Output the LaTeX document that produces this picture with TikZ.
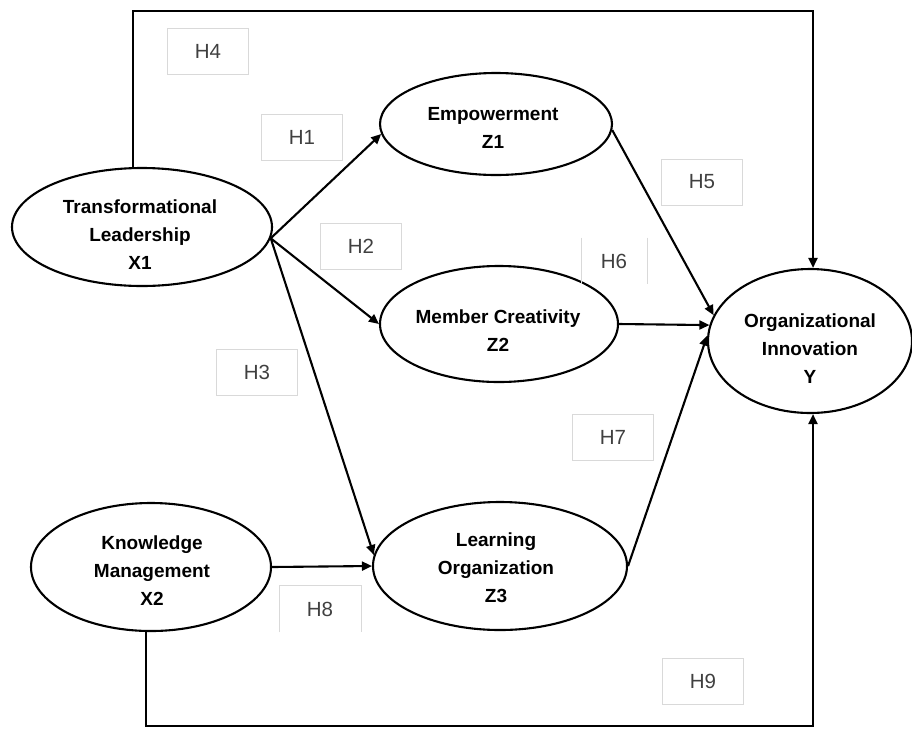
\documentclass[tikz,border=0pt]{standalone}
\usepackage{fontspec}
\setmainfont{Liberation Sans}
\usetikzlibrary{shapes.geometric,arrows.meta}
\begin{document}
\begin{tikzpicture}[x=1pt,y=-1pt,
  lv/.style={ellipse,draw=black,line width=2.1pt,inner sep=0pt},
  txt/.style={align=center,inner sep=0pt,font=\bfseries\fontsize{19}{28}\selectfont},
  hbox/.style={draw=black!15,line width=0.8pt,minimum width=81pt,minimum height=46pt,inner sep=0pt,text=black!75,font=\fontsize{20.5}{24}\selectfont},
  hnob/.style={hbox,draw=none},
  hline/.style={draw=black!15,line width=0.8pt},
  edge/.style={line width=2.1pt},
  arr/.style={edge,-{Triangle[length=10pt,width=9pt]}}]
\useasboundingbox (0,0) rectangle (912,729);
% latent variables
\node[lv,minimum width=260pt,minimum height=118pt] (X1) at (142,227) {};
\node[lv,minimum width=232pt,minimum height=102pt] (Z1) at (496,124) {};
\node[lv,minimum width=238pt,minimum height=116pt] (Z2) at (499,324) {};
\node[lv,minimum width=254pt,minimum height=128pt] (Z3) at (500,566) {};
\node[lv,minimum width=240pt,minimum height=128pt] (X2) at (151,567) {};
\node[lv,minimum width=204pt,minimum height=144pt] (Y) at (810,341) {};
% texts
\node[txt] (X1t) at (140,235) {Transformational\\Leadership\\X1};
\node[txt] (Z1t) at (493,128) {Empowerment\\Z1};
\node[txt] (Z2t) at (498,331) {Member Creativity\\Z2};
\node[txt] (Z3t) at (496,568) {Learning\\Organization\\Z3};
\node[txt] (X2t) at (152,571) {Knowledge\\Management\\X2};
\node[txt] (Yt) at (810,349) {Organizational\\Innovation\\Y};
% connectors
\draw[arr] (X1.-5) -- (Z1.185);
\draw[arr] (X1.-5) -- (Z2.west);
\draw[arr] (X1.-5) -- (Z3.175);
\draw[arr] (X2.east) -- (Z3.west);
\draw[arr] (Z1.-3) -- (Y.165);
\draw[arr] (Z2.east) -- (Y.171);
\draw[arr] (Z3.east) -- (Y.177);
\coordinate (tl) at (133,11);
\coordinate (tr) at (813,11);
\draw[arr] ([xshift=-9pt]X1.north) -- (tl) -- (tr) -- ([xshift=3pt]Y.north);
\coordinate (bl) at (146,726);
\coordinate (br) at (813,726);
\draw[arr] ([xshift=-5pt]X2.south) -- (bl) -- (br) -- ([xshift=3pt]Y.south);
% hypothesis labels
\node[hbox] (H4) at (208,51) {H4};
\node[hbox] (H1) at (302,137) {H1};
\node[hbox] (H2) at (361,246) {H2};
\node[hbox] (H3) at (257,372) {H3};
\node[hbox] (H5) at (702,182) {H5};
\node[hnob,minimum width=65pt] (H6) at (614,261) {H6};
\draw[hline] (H6.north west) -- (H6.south west) (H6.north east) -- (H6.south east);
\node[hbox] (H7) at (613,437) {H7};
\node[hnob] (H8) at (320,609) {H8};
\draw[hline] (H8.south west) -- (H8.north west) -- (H8.north east) -- (H8.south east);
\node[hbox] (H9) at (703,681) {H9};
\end{tikzpicture}
\end{document}
